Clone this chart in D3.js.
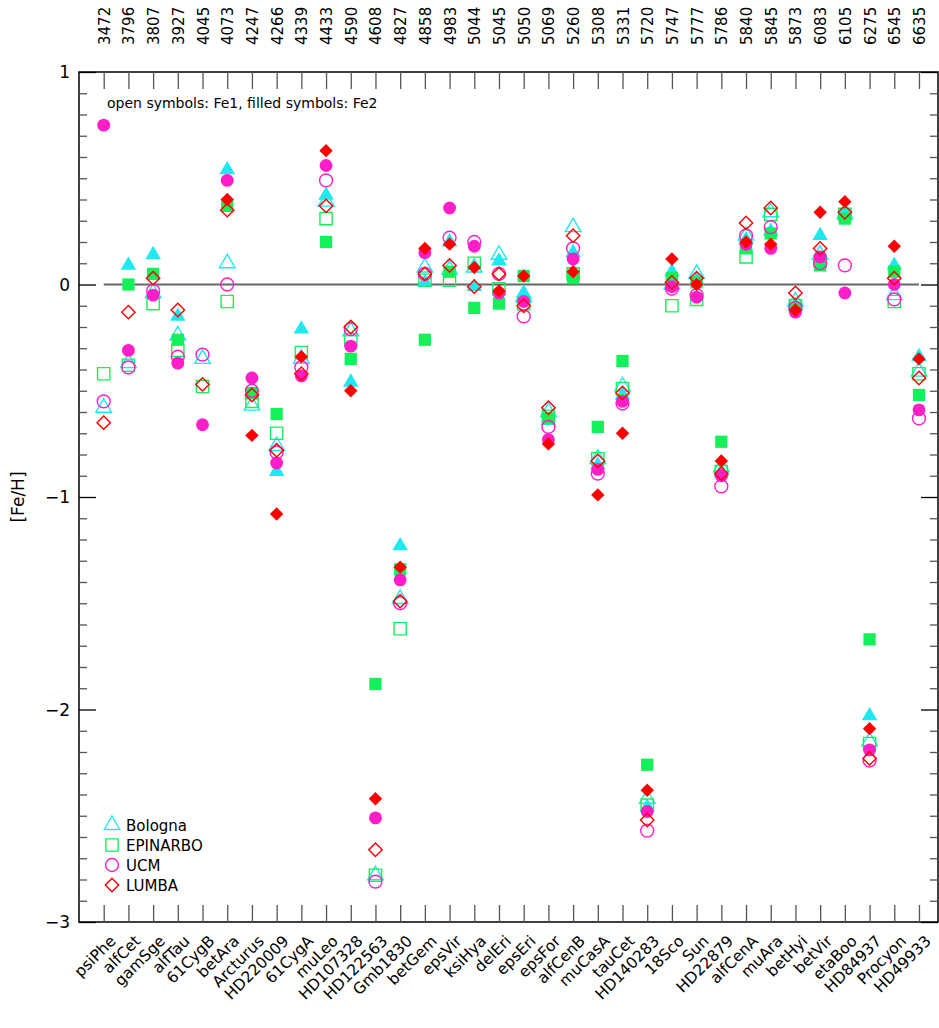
<!DOCTYPE html>
<html lang="en">
<head>
<meta charset="UTF-8">
<title>[Fe/H] by star</title>
<script src="https://d3js.org/d3.v7.min.js"></script>
<style>
  body { margin: 0; background: #fff; font-family: "DejaVu Sans", Arial, sans-serif; }
  text { fill: #000; }
</style>
</head>
<body>
<svg id="chart" width="939" height="1028"></svg>
<script>
const stars = ['psiPhe','alfCet','gamSge','alfTau','61CygB','betAra','Arcturus','HD220009','61CygA','muLeo',
  'HD107328','HD122563','Gmb1830','betGem','epsVir','ksiHya','delEri','epsEri','epsFor','alfCenB',
  'muCasA','tauCet','HD140283','18Sco','Sun','HD22879','alfCenA','muAra','betHyi','betVir',
  'etaBoo','HD84937','Procyon','HD49933'];
const teff = ['3472','3796','3807','3927','4045','4073','4247','4266','4339','4433','4590','4608','4827','4858',
  '4983','5044','5045','5050','5069','5260','5308','5331','5720','5747','5777','5786','5840','5845','5873',
  '6083','6105','6275','6545','6635'];

// Fe1 (open) and Fe2 (filled) per group, one value per star (null = missing)
const bolognaFe1 = [-0.58,-0.37,-0.04,-0.24,-0.35,0.10,-0.57,-0.76,-0.35,0.39,-0.22,-2.78,-1.48,0.08,0.07,0.08,0.14,-0.06,-0.60,0.27,-0.82,-0.48,-2.42,0.00,0.05,-0.86,0.23,0.34,-0.08,0.14,0.33,-2.15,-0.05,-0.41];
const bolognaFe2 = [null,0.09,0.14,-0.15,null,0.54,-0.52,-0.88,-0.21,0.42,-0.46,null,-1.23,0.01,0.20,-0.01,0.11,-0.04,-0.64,0.15,-0.85,-0.52,-2.46,0.06,0.02,-0.88,0.21,0.25,-0.10,0.23,0.34,-2.03,0.09,-0.34];
const epinarboFe1 = [-0.42,-0.38,-0.09,-0.31,-0.48,-0.08,-0.55,-0.70,-0.32,0.31,-0.26,-2.78,-1.62,0.02,0.02,0.10,-0.02,-0.09,-0.62,0.05,-0.82,-0.49,-2.45,-0.10,-0.07,-0.88,0.13,0.33,-0.10,0.11,0.33,-2.16,-0.08,-0.42];
const epinarboFe2 = [null,0.00,0.05,-0.26,null,0.37,-0.51,-0.61,null,0.20,-0.35,-1.88,-1.34,-0.26,0.06,-0.11,-0.09,0.04,-0.63,0.03,-0.67,-0.36,-2.26,0.03,0.01,-0.74,0.17,0.24,-0.11,0.09,0.31,-1.67,0.06,-0.52];
const ucmFe1 = [-0.55,-0.39,-0.03,-0.34,-0.33,0.00,-0.50,-0.79,-0.39,0.49,-0.21,-2.81,-1.50,0.05,0.22,0.20,0.05,-0.15,-0.67,0.17,-0.89,-0.56,-2.57,-0.02,-0.05,-0.95,0.23,0.27,-0.11,0.10,0.09,-2.24,-0.07,-0.63];
const ucmFe2 = [0.75,-0.31,-0.05,-0.37,-0.66,0.49,-0.44,-0.84,-0.43,0.56,-0.29,-2.51,-1.39,0.15,0.36,0.18,-0.04,-0.08,-0.73,0.12,-0.87,-0.55,-2.48,-0.01,-0.06,-0.90,0.19,0.17,-0.13,0.13,-0.04,-2.19,0.00,-0.59];
const lumbaFe1 = [-0.65,-0.13,0.03,-0.12,-0.47,0.35,-0.52,-0.78,-0.42,0.37,-0.20,-2.66,-1.49,0.05,0.09,-0.01,0.05,-0.10,-0.58,0.23,-0.83,-0.51,-2.52,0.01,0.03,-0.89,0.29,0.36,-0.04,0.17,0.34,-2.23,0.03,-0.44];
const lumbaFe2 = [null,null,null,null,null,0.40,-0.71,-1.08,-0.34,0.63,-0.50,-2.42,-1.33,0.17,0.19,0.08,-0.03,0.04,-0.75,0.06,-0.99,-0.70,-2.38,0.12,0.00,-0.83,0.20,0.19,-0.12,0.34,0.39,-2.09,0.18,-0.35];

const groups = [
  { name: 'Bologna',  color: '#1ee8f0', shape: d3.symbolTriangle, size: 105, rot: 0,  fe1: bolognaFe1,  fe2: bolognaFe2 },
  { name: 'EPINARBO', color: '#14f05a', shape: d3.symbolSquare,   size: 150, rot: 0,  fe1: epinarboFe1, fe2: epinarboFe2 },
  { name: 'UCM',      color: '#ff1ec8', shape: d3.symbolCircle,   size: 130, rot: 0,  fe1: ucmFe1,      fe2: ucmFe2 },
  { name: 'LUMBA',    color: '#ff0000', shape: d3.symbolSquare,   size: 90,  rot: 45, fe1: lumbaFe1,    fe2: lumbaFe2 }
];

const pLeft = 79, pRight = 938, pTop = 72, pBottom = 922;
const svg = d3.select('#chart');
const x = d3.scaleLinear().domain([-1, 33.77]).range([pLeft, pRight]);
const y = d3.scaleLinear().domain([-3, 1]).range([pBottom, pTop]);
const font = '"DejaVu Sans", Arial, sans-serif';

// frame
svg.append('rect').attr('x', pLeft).attr('y', pTop).attr('width', pRight - pLeft).attr('height', pBottom - pTop)
  .attr('fill', 'none').attr('stroke', '#000').attr('stroke-width', 1.5);

// x ticks (top and bottom, inward)
const idx = d3.range(stars.length);
svg.append('g').attr('transform', `translate(0,${pBottom})`)
  .call(d3.axisTop(x).tickValues(idx).tickSize(17).tickFormat(''))
  .call(g => { g.select('.domain').remove(); g.selectAll('line').attr('stroke', '#555').attr('stroke-width', 1.3); });
svg.append('g').attr('transform', `translate(0,${pTop})`)
  .call(d3.axisBottom(x).tickValues(idx).tickSize(17).tickFormat(''))
  .call(g => { g.select('.domain').remove(); g.selectAll('line').attr('stroke', '#555').attr('stroke-width', 1.3); });

// y ticks: minor every 0.1, major at integers, both sides
const minor = d3.range(-30, 11).map(v => v / 10).filter(v => Math.abs(v - Math.round(v)) > 1e-6);
const major = [-3, -2, -1, 0, 1];
[[pLeft, d3.axisRight], [pRight, d3.axisLeft]].forEach(([px, ax]) => {
  svg.append('g').attr('transform', `translate(${px},0)`)
    .call(ax(y).tickValues(minor).tickSize(8).tickFormat(''))
    .call(g => { g.select('.domain').remove(); g.selectAll('line').attr('stroke', '#555').attr('stroke-width', 1.3); });
  svg.append('g').attr('transform', `translate(${px},0)`)
    .call(ax(y).tickValues(major).tickSize(17).tickFormat(''))
    .call(g => { g.select('.domain').remove(); g.selectAll('line').attr('stroke', '#000').attr('stroke-width', 1.3); });
});
svg.append('g').selectAll('text').data(major).join('text')
  .attr('x', pLeft - 9).attr('y', d => y(d) + 6).attr('text-anchor', 'end')
  .attr('font-family', font).attr('font-size', 17)
  .text(d => d < 0 ? '\u2212' + Math.abs(d) : d);

// axis label
svg.append('text').attr('transform', `translate(24,${y(-1)}) rotate(-90)`)
  .attr('text-anchor', 'middle').attr('font-family', font).attr('font-size', 17).text('[Fe/H]');

// bottom star labels
svg.append('g').selectAll('text').data(stars).join('text')
  .attr('transform', (d, i) => `translate(${x(i) + 13},${pBottom + 20}) rotate(-45)`)
  .attr('text-anchor', 'end').attr('font-family', font).attr('font-size', 15.5).text(d => d);

// top Teff labels
svg.append('g').selectAll('text').data(teff).join('text')
  .attr('transform', (d, i) => `translate(${x(i) + 6},${pTop - 27}) rotate(-90)`)
  .attr('text-anchor', 'start').attr('font-family', font).attr('font-size', 15).text(d => d);

// zero line
svg.append('line').attr('x1', x(0)).attr('x2', x(33)).attr('y1', y(0)).attr('y2', y(0))
  .attr('stroke', '#666').attr('stroke-width', 2);

svg.append('text').attr('x', 107).attr('y', 108).attr('font-family', font).attr('font-size', 14)
  .text('open symbols: Fe1, filled symbols: Fe2');

// points
groups.forEach(g => {
  const sym = d3.symbol().type(g.shape).size(g.size);
  const layer = svg.append('g');
  layer.selectAll('path.o').data(g.fe1.map((v, i) => [i, v]).filter(d => d[1] != null)).join('path')
    .attr('class', 'o').attr('d', sym)
    .attr('transform', d => `translate(${x(d[0])},${y(d[1])}) rotate(${g.rot})`)
    .attr('fill', 'none').attr('stroke', g.color).attr('stroke-width', 1.4);
  layer.selectAll('path.f').data(g.fe2.map((v, i) => [i, v]).filter(d => d[1] != null)).join('path')
    .attr('class', 'f').attr('d', sym)
    .attr('transform', d => `translate(${x(d[0])},${y(d[1])}) rotate(${g.rot})`)
    .attr('fill', g.color);
});

// legend
const leg = svg.append('g').attr('transform', 'translate(112,825)');
groups.forEach((g, i) => {
  leg.append('path').attr('d', d3.symbol().type(g.shape).size(g.size)())
    .attr('transform', `translate(0,${i * 20}) rotate(${g.rot})`)
    .attr('fill', 'none').attr('stroke', g.color).attr('stroke-width', 1.4);
  leg.append('text').attr('x', 14).attr('y', i * 20 + 6).attr('font-family', font).attr('font-size', 15).text(g.name);
});
</script>
</body>
</html>
